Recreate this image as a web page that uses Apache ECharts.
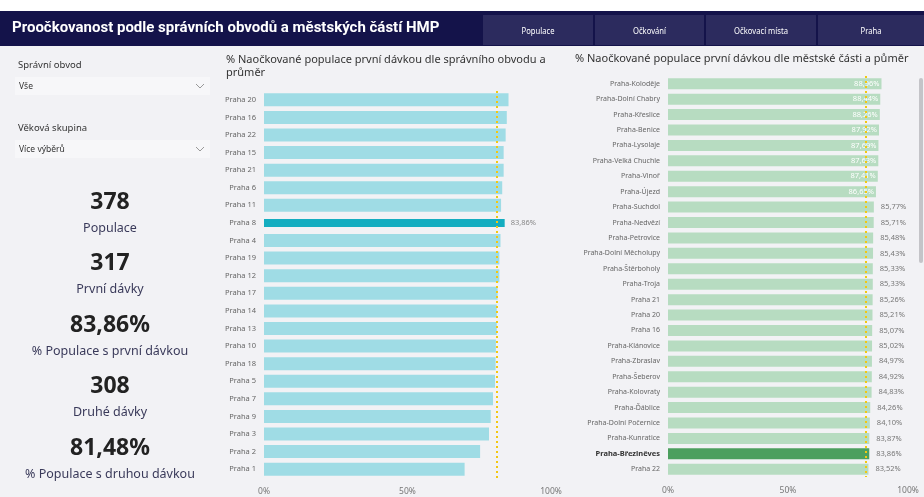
<!DOCTYPE html>
<html>
<head>
<meta charset="utf-8">
<script src="https://cdn.jsdelivr.net/npm/echarts@6/dist/echarts.min.js"></script>
<style>
  html, body { margin: 0; padding: 0; background: #f2f2f5; }
  #main { width: 924px; height: 497px; }
</style>
</head>
<body>
<div id="main"></div>
<script>
const obvodNames = ['Praha 20', 'Praha 16', 'Praha 22', 'Praha 15', 'Praha 21', 'Praha 6', 'Praha 11', 'Praha 8',
  'Praha 4', 'Praha 19', 'Praha 12', 'Praha 17', 'Praha 14', 'Praha 13', 'Praha 10', 'Praha 18', 'Praha 5',
  'Praha 7', 'Praha 9', 'Praha 3', 'Praha 2', 'Praha 1'];
const obvodValues = [85.2, 84.6, 84.2, 83.5, 83.5, 83.0, 82.6, 83.86, 82.4, 82.0, 82.0, 81.4, 81.1, 81.1, 80.8,
  80.7, 80.5, 79.8, 79.0, 78.4, 75.3, 69.9];
const obvodAvg = 81.2;
const obvodSelected = 'Praha 8';

const castNames = ['Praha-Koloděje', 'Praha-Dolní Chabry', 'Praha-Křeslice', 'Praha-Benice', 'Praha-Lysolaje',
  'Praha-Velká Chuchle', 'Praha-Vinoř', 'Praha-Újezd', 'Praha-Suchdol', 'Praha-Nedvězí', 'Praha-Petrovice',
  'Praha-Dolní Měcholupy', 'Praha-Štěrboholy', 'Praha-Troja', 'Praha 21', 'Praha 20', 'Praha 16',
  'Praha-Klánovice', 'Praha-Zbraslav', 'Praha-Šeberov', 'Praha-Kolovraty', 'Praha-Ďáblice',
  'Praha-Dolní Počernice', 'Praha-Kunratice', 'Praha-Březiněves', 'Praha 22'];
const castValues = [88.96, 88.44, 88.26, 87.92, 87.69, 87.63, 87.41, 86.65, 85.77, 85.71, 85.48, 85.43, 85.33,
  85.33, 85.26, 85.21, 85.07, 85.02, 84.97, 84.92, 84.83, 84.26, 84.10, 83.87, 83.86, 83.52];
const castAvg = 82.4;
const castSelected = 'Praha-Březiněves';

const tabs = ['Populace', 'Očkování', 'Očkovací místa', 'Praha'];
const kpiValues = ['378', '317', '83,86%', '308', '81,48%'];
const kpiLabels = ['Populace', 'První dávky', '% Populace s první dávkou', 'Druhé dávky', '% Populace s druhou dávkou'];
const slicers = [['Správní obvod', 'Vše'], ['Věková skupina', 'Více výběrů']];

const FONT = '"Noto Sans", "Open Sans", sans-serif';
const pct = v => v.toFixed(2).replace('.', ',') + '%';

// the report title uses a condensed font, squeeze a normal one to the same width
const pageTitle = 'Proočkovanost podle správních obvodů a městských částí HMP';
const titleFont = 'bold 15px Roboto, sans-serif';
const ctx = document.createElement('canvas').getContext('2d');
ctx.font = titleFont;
const titleScale = Math.min(1, 440 / ctx.measureText(pageTitle).width);

const chart = echarts.init(document.getElementById('main'));

// header, tabs, slicers and cards
const graphic = [
  { type: 'rect', shape: { x: 0, y: 0, width: 924, height: 11 }, style: { fill: '#ffffff' } },
  { type: 'rect', shape: { x: 0, y: 11, width: 924, height: 35 }, style: { fill: '#14134a' } },
  { type: 'text', x: 12, y: 28, scaleX: titleScale, originX: 0,
    style: { text: pageTitle, fill: '#ffffff', font: titleFont, verticalAlign: 'middle' } }
];
const tabX = [483, 595, 706, 818];
tabs.forEach((t, i) => {
  const w = i < 3 ? tabX[i + 1] - tabX[i] - 2 : 106;
  graphic.push({ type: 'rect', shape: { x: tabX[i], y: 15, width: w, height: 30 }, style: { fill: '#2c2b5e' } });
  graphic.push({ type: 'text', x: tabX[i] + w / 2, y: 31, scaleX: 0.85, originX: 0,
    style: { text: t, fill: '#ffffff', font: '9px ' + FONT, align: 'center', verticalAlign: 'middle' } });
});
slicers.forEach((s, i) => {
  const y0 = 65 + i * 63;
  graphic.push({ type: 'text', x: 18, y: y0, style: { text: s[0], fill: '#333333', font: '9.5px ' + FONT, verticalAlign: 'middle' } });
  graphic.push({ type: 'rect', shape: { x: 15, y: y0 + 12, width: 195, height: 18 }, style: { fill: '#f7f7f9' } });
  graphic.push({ type: 'text', x: 19, y: y0 + 22, style: { text: s[1], fill: '#333333', font: '8.5px ' + FONT, verticalAlign: 'middle' } });
  graphic.push({ type: 'polyline', shape: { points: [[196, y0 + 19], [200, y0 + 23], [204, y0 + 19]] },
    style: { stroke: '#999999', lineWidth: 1, fill: null } });
});
kpiValues.forEach((v, i) => {
  const y0 = 202 + i * 61.5;
  graphic.push({ type: 'text', x: 110, y: y0, style: { text: v, fill: '#222222', font: 'bold 23px ' + FONT,
      align: 'center', verticalAlign: 'middle' } });
  graphic.push({ type: 'text', x: 110, y: y0 + 26, style: { text: kpiLabels[i], fill: '#3a3a5a', font: '12.5px ' + FONT,
      align: 'center', verticalAlign: 'middle' } });
});
// scrollbar of the right visual
graphic.push({ type: 'rect', shape: { x: 919, y: 78, width: 4, height: 185, r: 2 }, style: { fill: '#c4c4c8' } });

const avgLine = v => ({
  silent: true, symbol: 'none', label: { show: false },
  lineStyle: { color: '#f2c811', type: [2, 3], width: 2 },
  data: [{ xAxis: v }]
});

const xAxisBase = {
  type: 'value', min: 0, max: 100, interval: 50,
  splitLine: { show: false }, axisLine: { show: false }, axisTick: { show: false },
  axisLabel: { color: '#777777', fontSize: 8.5, fontFamily: FONT, margin: 9, formatter: v => v + '%' }
};
const yAxisBase = {
  type: 'category', inverse: true,
  axisLine: { show: false }, axisTick: { show: false }
};

chart.setOption({
  backgroundColor: '#f2f2f5',
  animation: false,
  title: [
    { text: '% Naočkované populace první dávkou dle správního obvodu a\nprůměr', left: 221, top: 48,
      textStyle: { fontSize: 11, fontWeight: 'normal', color: '#333333', fontFamily: FONT, lineHeight: 13 } },
    { text: '% Naočkované populace první dávkou dle městské části a půměr', left: 570, top: 48,
      textStyle: { fontSize: 11, fontWeight: 'normal', color: '#333333', fontFamily: FONT } }
  ],
  graphic: graphic,
  grid: [
    { left: 264, width: 287, top: 91, height: 387 },
    { left: 668, width: 240, top: 76, height: 401 }
  ],
  xAxis: [
    Object.assign({ gridIndex: 0 }, xAxisBase),
    Object.assign({ gridIndex: 1 }, xAxisBase)
  ],
  yAxis: [
    Object.assign({ gridIndex: 0, data: obvodNames,
      axisLabel: { color: '#666666', fontSize: 7.5, fontFamily: FONT, margin: 8 } }, yAxisBase),
    Object.assign({ gridIndex: 0, data: obvodNames, show: false }, yAxisBase),
    Object.assign({ gridIndex: 1, data: castNames,
      axisLabel: { color: '#666666', fontSize: 7, fontFamily: FONT, margin: 8,
        formatter: v => v === castSelected ? '{b|' + v + '}' : v,
        rich: { b: { fontWeight: 'bold', color: '#333333', fontSize: 7.5, fontFamily: FONT } } } }, yAxisBase)
  ],
  series: [
    {
      type: 'bar', xAxisIndex: 0, yAxisIndex: 0, barWidth: 13,
      data: obvodValues.map((v, i) => obvodNames[i] === obvodSelected ? null : v),
      itemStyle: { color: '#9fdce5' },
      markLine: avgLine(obvodAvg)
    },
    {
      type: 'bar', xAxisIndex: 0, yAxisIndex: 1, barWidth: 8,
      data: obvodValues.map((v, i) => obvodNames[i] === obvodSelected ? v : null),
      itemStyle: { color: '#14adc0' },
      label: { show: true, position: 'right', distance: 6, color: '#888888', fontSize: 7.5, fontFamily: FONT,
        formatter: p => pct(p.value) }
    },
    {
      type: 'bar', xAxisIndex: 1, yAxisIndex: 2, barWidth: 11,
      data: castValues.map((v, i) => ({
        value: v,
        itemStyle: { color: castNames[i] === castSelected ? '#4c9f5e' : '#b7dcc1' },
        label: v > 86 ? { position: 'insideRight', color: '#ffffff', distance: 2 } : { position: 'right', color: '#777777', distance: 7 }
      })),
      label: { show: true, fontSize: 7.5, fontFamily: FONT, formatter: p => pct(p.value) },
      markLine: avgLine(castAvg)
    }
  ]
});
</script>
</body>
</html>
